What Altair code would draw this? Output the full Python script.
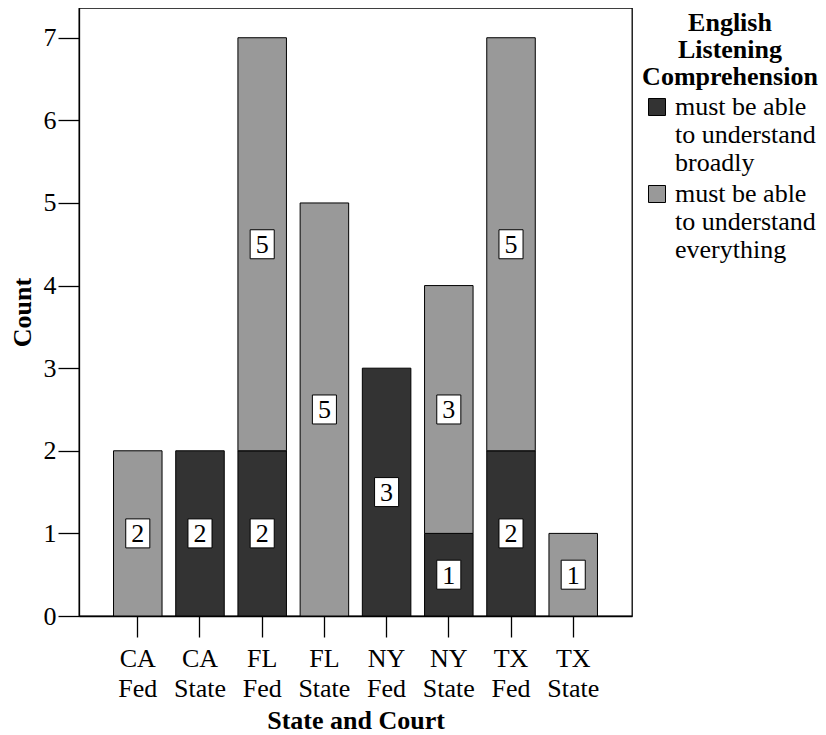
import altair as alt
import pandas as pd

groups = ["CA Fed", "CA State", "FL Fed", "FL State", "NY Fed", "NY State", "TX Fed", "TX State"]
broadly = [0, 2, 2, 0, 3, 1, 2, 0]
everything = [2, 0, 5, 5, 0, 3, 5, 1]
cats = ["must be able|to understand|broadly", "must be able|to understand|everything"]
cat_colors = ["#333333", "#999999"]
legend_title = ["English", "Listening", "Comprehension"]
y_ticks = [0, 1, 2, 3, 4, 5, 6, 7]

rows = []
for g, b, e in zip(groups, broadly, everything):
    if b:
        rows.append({"group": g, "cat": cats[0], "order": 0, "count": b})
    if e:
        rows.append({"group": g, "cat": cats[1], "order": 1, "count": e})
df = pd.DataFrame(rows)

FONT = "Liberation Serif"
FS = 26

x_axis = alt.Axis(
    title="State and Court",
    labelExpr="split(datum.label, ' ')",
    labelAngle=0,
    labelBaseline="top",
    labelLineHeight=30,
    labelPadding=8,
    tickSize=21,
    titlePadding=6,
)
y_axis = alt.Axis(values=y_ticks, title="Count", tickSize=21, grid=False,
                  labelPadding=2, titlePadding=8)
y_scale = alt.Scale(domain=[0, 7.36], nice=False)
x_scale = alt.Scale(paddingInner=0.22, paddingOuter=0.555)

bars = alt.Chart(df).mark_bar(stroke="black", strokeWidth=1).encode(
    x=alt.X("group:N", sort=groups, scale=x_scale, axis=x_axis),
    y=alt.Y("count:Q", stack="zero", scale=y_scale, axis=y_axis),
    color=alt.Color(
        "cat:N",
        scale=alt.Scale(domain=cats, range=cat_colors),
        legend=alt.Legend(
            title=legend_title,
            orient="none",
            legendX=563,
            legendY=2,
            padding=0,
            titleFont=FONT,
            titleFontSize=FS,
            titleFontWeight="bold",
            titleColor="black",
            titleAnchor="middle",
            titleAlign="center",
            titleLineHeight=27,
            titlePadding=4,
            labelExpr="split(datum.label, '|')",
            labelFont=FONT,
            labelFontSize=FS,
            labelColor="black",
            labelOffset=5,
            symbolType="square",
            symbolSize=289,
            symbolStrokeColor="black",
            symbolStrokeWidth=1,
            rowPadding=5,
        ),
    ),
    order=alt.Order("order:Q"),
)

lab = alt.Chart(df).transform_stack(
    stack="count", groupby=["group"], sort=[alt.SortField("order")], as_=["y0", "y1"]
).transform_calculate(mid="(datum.y0 + datum.y1) / 2")

boxes = lab.mark_point(
    shape="M-0.83,-1H0.83V1H-0.83Z", size=841, filled=True,
    fill="white", stroke="black", strokeWidth=1, opacity=1,
).encode(
    x=alt.X("group:N", sort=groups, scale=x_scale, axis=x_axis),
    y=alt.Y("mid:Q", scale=y_scale, axis=y_axis),
)
texts = lab.mark_text(font=FONT, fontSize=FS, baseline="middle", dy=1, color="black").encode(
    x=alt.X("group:N", sort=groups, scale=x_scale, axis=x_axis),
    y=alt.Y("mid:Q", scale=y_scale, axis=y_axis),
    text="count:Q",
)

chart = alt.layer(bars, boxes, texts).properties(
    width=553,
    height=608,
    autosize=alt.AutoSizeParams(type="none"),
    padding={"left": 71, "top": 0, "right": 186, "bottom": 119},
).configure_view(
    stroke="black", strokeWidth=1.3
).configure_axis(
    domainColor="black",
    domainWidth=1.3,
    tickColor="black",
    tickWidth=1.3,
    labelFont=FONT,
    labelFontSize=FS,
    labelColor="black",
    titleFont=FONT,
    titleFontSize=FS,
    titleFontWeight="bold",
    titleColor="black",
)

chart.save("out.html", embed_options={"renderer": "svg", "actions": False})
